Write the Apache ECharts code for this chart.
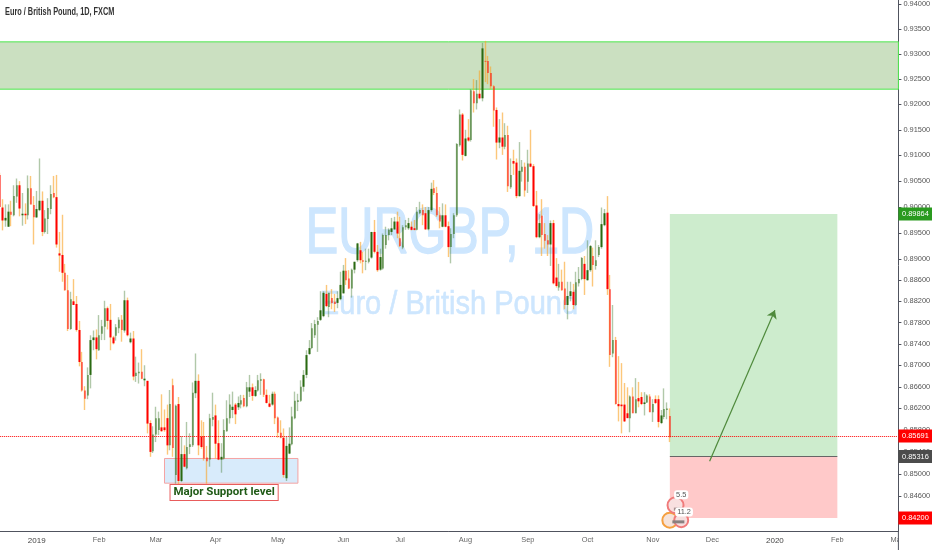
<!DOCTYPE html>
<html><head><meta charset="utf-8">
<style>html,body{margin:0;padding:0;background:#fff}#c{width:932px;height:550px}</style>
<script src="https://cdn.jsdelivr.net/npm/echarts@6/dist/echarts.min.js"></script>
</head><body><div id="c"></div>
<script>
const opens=[.9062,.8999,.8974,.8962,.8991,.8984,.9020,.9042,.8984,.8987,
.8984,.9036,.9004,.8980,.8994,.9012,.8952,.8977,.8996,.9027,
.9019,.8911,.8908,.8874,.8841,.8768,.8820,.8815,.8766,.8706,
.8653,.8644,.8682,.8747,.8752,.8728,.8759,.8772,.8807,.8785,
.8752,.8755,.8769,.8785,.8765,.8822,.8743,.8750,.8680,.8685,
.8688,.8672,.8671,.8593,.8541,.8572,.8580,.8585,.8585,.8602,
.8552,.8663,.8498,.8628,.8487,.8536,.8510,.8549,.8552,.8648,
.8671,.8568,.8569,.8530,.8526,.8599,.8607,.8556,.8526,.8528,
.8578,.8602,.8617,.8627,.8622,.8627,.8639,.8624,.8651,.8659,
.8643,.8653,.8671,.8674,.8645,.8629,.8627,.8647,.8603,.8575,
.8566,.8492,.8537,.8554,.8602,.8632,.8634,.8660,.8682,.8721,
.8732,.8756,.8776,.8785,.8792,.8834,.8809,.8826,.8819,.8817,
.8824,.8835,.8878,.8863,.8844,.8880,.8898,.8917,.8898,.8895,
.8895,.8903,.8952,.8914,.8880,.8882,.8927,.8946,.8952,.8957,
.8972,.8940,.8922,.8961,.8959,.8962,.8959,.8956,.8988,.8994,
.8988,.8957,.8994,.9036,.9027,.8984,.8962,.8984,.8963,.8923,
.8948,.8984,.9120,.9180,.9099,.9135,.9130,.9226,.9202,.9221,
.9212,.9286,.9286,.9262,.9236,.9189,.9125,.9135,.9117,.9140,
.9038,.9089,.9086,.9021,.9068,.9078,.9049,.9084,.9079,.9003,
.8942,.8983,.8948,.8936,.8928,.8969,.8865,.8846,.8857,.8844,
.8813,.8830,.8838,.8813,.8854,.8862,.8891,.8860,.8879,.8906,
.8887,.8908,.8923,.8965,.8989,.8843,.8722,.8747,.8628,.8627,
.8627,.8611,.8602,.8642,.8611,.8639,.8641,.8628,.8631,.8642,
.8613,.8637,.8637,.8593,.8604,.8617,.8606];
const highs=[.9066,.9015,.9005,.9005,.9012,.9042,.9055,.9050,.9027,.9007,
.9061,.9060,.9021,.9031,.9094,.9030,.8994,.9017,.9042,.9060,
.9062,.8952,.8985,.8891,.8870,.8838,.8862,.8830,.8783,.8725,
.8661,.8696,.8756,.8765,.8767,.8794,.8785,.8821,.8810,.8815,
.8755,.8777,.8790,.8794,.8840,.8827,.8761,.8764,.8716,.8705,
.8730,.8700,.8671,.8598,.8587,.8623,.8614,.8646,.8618,.8627,
.8654,.8675,.8627,.8641,.8569,.8552,.8595,.8574,.8668,.8722,
.8683,.8598,.8595,.8551,.8610,.8649,.8627,.8598,.8556,.8600,
.8635,.8646,.8651,.8630,.8642,.8645,.8645,.8669,.8682,.8666,
.8661,.8682,.8685,.8675,.8655,.8645,.8651,.8651,.8605,.8598,
.8583,.8569,.8585,.8623,.8651,.8647,.8672,.8691,.8728,.8747,
.8779,.8785,.8790,.8839,.8839,.8851,.8836,.8843,.8834,.8839,
.8876,.8889,.8902,.8879,.8882,.8895,.8931,.8933,.8914,.8920,
.8920,.8952,.8975,.8927,.8920,.8949,.8962,.8959,.8979,.8981,
.8991,.8981,.8965,.8975,.8979,.8972,.8975,.9000,.9010,.9005,
.9000,.9000,.9047,.9052,.9039,.9000,.9007,.9005,.8972,.8959,
.8988,.9124,.9190,.9183,.9150,.9171,.9230,.9250,.9248,.9267,
.9322,.9326,.9296,.9275,.9238,.9194,.9171,.9184,.9163,.9158,
.9094,.9111,.9094,.9126,.9091,.9086,.9111,.9150,.9083,.9031,
.8986,.9015,.8969,.8946,.8974,.8975,.8902,.8891,.8880,.8895,
.8857,.8857,.8853,.8876,.8885,.8904,.8906,.8936,.8927,.8922,
.8936,.8927,.8999,.8996,.9021,.8870,.8813,.8753,.8717,.8704,
.8667,.8659,.8644,.8659,.8676,.8669,.8650,.8650,.8646,.8646,
.8637,.8644,.8644,.8617,.8657,.8631,.8620];
const lows=[.9000,.8955,.8962,.8962,.8963,.8982,.9008,.8982,.8964,.8967,
.8976,.9005,.8928,.8979,.8992,.8944,.8949,.8948,.8986,.9017,
.8922,.8876,.8857,.8840,.8764,.8766,.8813,.8763,.8698,.8651,
.8617,.8637,.8657,.8728,.8711,.8727,.8747,.8747,.8767,.8728,
.8739,.8746,.8760,.8744,.8761,.8754,.8741,.8672,.8669,.8666,
.8674,.8661,.8574,.8531,.8538,.8558,.8571,.8577,.8577,.8535,
.8543,.8531,.8482,.8473,.8485,.8512,.8508,.8536,.8549,.8639,
.8534,.8546,.8524,.8482,.8513,.8587,.8528,.8525,.8502,.8526,
.8577,.8592,.8602,.8591,.8617,.8620,.8622,.8622,.8641,.8634,
.8641,.8651,.8645,.8641,.8629,.8622,.8625,.8591,.8566,.8565,
.8493,.8487,.8536,.8552,.8600,.8615,.8632,.8651,.8676,.8719,
.8730,.8751,.8725,.8783,.8790,.8809,.8790,.8805,.8800,.8807,
.8822,.8835,.8851,.8843,.8827,.8873,.8895,.8892,.8873,.8879,
.8892,.8901,.8911,.8876,.8878,.8880,.8920,.8936,.8946,.8956,
.8940,.8923,.8919,.8956,.8956,.8955,.8955,.8955,.8986,.8965,
.8956,.8955,.8991,.9023,.8981,.8959,.8961,.8961,.8904,.8892,
.8940,.8981,.9117,.9090,.9098,.9127,.9127,.9184,.9190,.9210,
.9206,.9244,.9240,.9230,.9156,.9092,.9114,.9101,.9112,.9029,
.9035,.9062,.9017,.9020,.9049,.9020,.9027,.9077,.9000,.8940,
.8940,.8906,.8920,.8906,.8887,.8852,.8846,.8840,.8840,.8805,
.8786,.8820,.8805,.8811,.8848,.8860,.8832,.8859,.8876,.8848,
.8880,.8904,.8920,.8963,.8832,.8697,.8715,.8627,.8596,.8574,
.8595,.8602,.8576,.8611,.8611,.8622,.8626,.8607,.8630,.8613,
.8595,.8628,.8585,.8591,.8600,.8600,.8558];
const closes=[.9000,.8974,.8979,.8991,.8985,.9021,.9042,.8997,.8987,.8984,
.9036,.9005,.8980,.8996,.9012,.8952,.8978,.8998,.9025,.9019,
.8928,.8907,.8874,.8841,.8768,.8824,.8813,.8766,.8706,.8653,
.8638,.8682,.8747,.8752,.8730,.8756,.8773,.8807,.8783,.8752,
.8741,.8771,.8785,.8766,.8822,.8756,.8750,.8679,.8686,.8688,
.8675,.8675,.8592,.8540,.8572,.8602,.8602,.8578,.8580,.8552,
.8628,.8547,.8625,.8487,.8536,.8513,.8549,.8554,.8649,.8671,
.8552,.8549,.8528,.8523,.8602,.8604,.8555,.8526,.8531,.8580,
.8602,.8627,.8623,.8609,.8630,.8635,.8624,.8659,.8659,.8643,
.8654,.8672,.8674,.8645,.8630,.8623,.8647,.8602,.8575,.8566,
.8498,.8551,.8555,.8605,.8634,.8635,.8660,.8682,.8719,.8732,
.8769,.8777,.8783,.8803,.8836,.8811,.8836,.8817,.8815,.8826,
.8851,.8878,.8860,.8844,.8880,.8895,.8930,.8898,.8895,.8897,
.8901,.8952,.8914,.8879,.8904,.8946,.8946,.8956,.8959,.8972,
.8949,.8925,.8961,.8965,.8969,.8956,.8956,.8991,.8994,.8984,
.8957,.8994,.9035,.9027,.8984,.8972,.8984,.8962,.8923,.8948,
.8984,.9122,.9180,.9101,.9133,.9129,.9228,.9202,.9221,.9212,
.9311,.9285,.9262,.9236,.9188,.9125,.9135,.9117,.9140,.9040,
.9062,.9084,.9021,.9070,.9078,.9032,.9084,.9078,.9002,.8942,
.8969,.8946,.8935,.8928,.8969,.8854,.8849,.8857,.8841,.8813,
.8830,.8839,.8813,.8856,.8862,.8902,.8862,.8879,.8925,.8889,
.8898,.8923,.8967,.8988,.8843,.8719,.8747,.8628,.8624,.8624,
.8596,.8602,.8642,.8611,.8637,.8633,.8628,.8631,.8644,.8613,
.8628,.8630,.8595,.8607,.8619,.8620,.8567];

const monthLabels=['2019','Feb','Mar','Apr','May','Jun','Jul','Aug','Sep','Oct','Nov','Dec','2020','Feb','Mar'];
const monthBars=[13,35,55,76,98,121,141,164,186,207,230,251,273,295,316];
const slotCount=317;
const priceTicks=[.94,.935,.93,.925,.92,.915,.91,.905,.9,.895,.89,.886,.882,.878,.874,.87,.866,.862,.858,.854,.85,.846,.842];
const tagPrices=[.89864,.85691,.85316,.842];
const tagKinds=['g','r','d','r'];
const axisMaxPrice=.9408, axisMinPrice=.8396;
const resistanceZone=[.9324,.9230];
const supportZone=[.8528,.8483];
const supportBars=[58,105];
const longStartBar=236, longEndBar=295, longTarget=.89864, longEntry=.85316, longStop=.842;
const currentPrice=.85691;
const arrowFrom=[250,.8523], arrowTo=[273,.8803];
const noteBar=79, notePrice=.8466, noteText='Major Support level';

const L=Math.log;
const sans='"Liberation Sans",Arial,sans-serif';
const cats=Array.from({length:slotCount},(_,i)=>{const k=monthBars.indexOf(i);return k<0?'':monthLabels[k];});
const isMonth=i=>monthBars.includes(i);
const wicks=opens.map((o,i)=>[L(o),L(closes[i]),L(lows[i]),L(highs[i])]);
const bodies=opens.map((o,i)=>{const a=L(o),b=L(closes[i]);return [a,b,Math.min(a,b),Math.max(a,b)];});
const yBase={type:'value',position:'right',min:L(axisMinPrice),max:L(axisMaxPrice),scale:true,splitLine:{show:false}};
const tag=(bg)=>({backgroundColor:bg,color:'#fff',width:34,height:13,lineHeight:13,align:'center',fontFamily:sans,fontSize:7.4});
const up='rgba(70,125,50,.42)', down='rgba(250,165,40,.62)';

const chart=echarts.init(document.getElementById('c'),null,{renderer:'canvas'});
chart.setOption({
 animation:false,backgroundColor:'#fff',
 grid:{left:-1.6,top:0,width:900,height:531.3,containLabel:false,outerBoundsMode:'none'},
 xAxis:{type:'category',data:cats,boundaryGap:true,
  axisLine:{lineStyle:{color:'#50535e',width:1}},
  axisTick:{alignWithLabel:true,length:3,interval:i=>isMonth(i),lineStyle:{color:'#50535e'}},
  axisLabel:{interval:i=>isMonth(i),margin:5,fontFamily:sans,fontSize:7.4,color:'#666',
   formatter:v=>/^20/.test(v)?'{y|'+v+'}':v,rich:{y:{fontFamily:sans,fontSize:8,color:'#444'}}},
  splitLine:{show:false}},
 yAxis:[
  Object.assign({},yBase,{
   axisLine:{show:true,onZero:false,lineStyle:{color:'#50535e',width:1}},
   axisTick:{show:true,length:3,customValues:priceTicks.map(L),lineStyle:{color:'#50535e'}},
   axisLabel:{customValues:priceTicks.map(L),margin:5,fontFamily:sans,fontSize:7.4,color:'#555',formatter:v=>Math.exp(v).toFixed(5)}}),
  Object.assign({},yBase,{
   axisLine:{show:false},axisTick:{show:false},
   axisLabel:{customValues:tagPrices.map(L),margin:0,
    formatter:v=>{let k=0,b=9;tagPrices.forEach((p,i)=>{const d=Math.abs(L(p)-v);if(d<b){b=d;k=i;}});return '{'+tagKinds[k]+'|'+tagPrices[k].toFixed(5)+'}';},
    rich:{g:tag('#2a9a1f'),r:tag('#f00'),d:tag('#4c4c4c')}}})
 ],
 series:[
  {type:'line',z:1,data:closes.map(L),showSymbol:false,lineStyle:{opacity:0},silent:true,
   markArea:{silent:true,data:[
    [{yAxis:L(resistanceZone[0]),itemStyle:{color:'#cbe0c1',borderColor:'#4ee84e',borderWidth:1}},{yAxis:L(resistanceZone[1])}],
    [{coord:[longStartBar,L(longTarget)],itemStyle:{color:'#cdeccd'}},{coord:[longEndBar,L(longEntry)]}],
    [{coord:[longStartBar,L(longEntry)],itemStyle:{color:'#ffc9c9'}},{coord:[longEndBar,L(longStop)]}],
    [{coord:[supportBars[0],L(supportZone[0])],itemStyle:{color:'#d8ebfb',borderColor:'#f5a3a3',borderWidth:1}},{coord:[supportBars[1],L(supportZone[1])]}]
   ]}},
  {type:'candlestick',name:'wick',z:2,barWidth:1,data:wicks,silent:true,clip:false,
   itemStyle:{color:up,color0:down,borderColor:up,borderColor0:down,borderWidth:1.4}},
  {type:'candlestick',name:'body',z:3,barWidth:2,data:bodies,silent:true,clip:false,
   itemStyle:{color:'#2a6a12',color0:'#f00',borderColor:'#2a6a12',borderColor0:'#f00',borderWidth:0}},
  {type:'line',z:5,data:closes.map(L),showSymbol:false,lineStyle:{opacity:0},silent:true,
   markLine:{silent:true,symbol:'none',label:{show:false},animation:false,data:[
    [{coord:[0,L(currentPrice)],lineStyle:{color:'#f00',type:'dotted',width:1}},{coord:[316,L(currentPrice)]}],
    [{coord:[longStartBar,L(longEntry)],lineStyle:{color:'#666',type:'solid',width:1}},{coord:[longEndBar,L(longEntry)]}],
    [{coord:[arrowFrom[0],L(arrowFrom[1])],symbol:'none',lineStyle:{color:'#4f8a3c',type:'solid',width:1.2}},{coord:[arrowTo[0],L(arrowTo[1])],symbol:'arrow',symbolSize:8}]
   ]},
   markPoint:{silent:true,data:[
    {coord:[noteBar,L(notePrice)],symbol:'rect',symbolSize:1,itemStyle:{color:'transparent'},
     label:{show:true,position:'inside',formatter:noteText,fontFamily:'Roboto,sans-serif',fontWeight:'bold',fontSize:11.5,color:'#1f5a16',
      backgroundColor:'#fff',borderColor:'#e85c5c',borderWidth:1,padding:[2,3,1,3]}},
    {coord:[236,L(.8416)],symbol:'circle',symbolSize:15,itemStyle:{color:'#f6e3da',borderColor:'#f5a040',borderWidth:2},label:{show:false}},
    {coord:[240,L(.8416)],symbol:'circle',symbolSize:14,itemStyle:{color:'#f6dede',borderColor:'#f07a7a',borderWidth:2},label:{show:false}},
    {coord:[238,L(.8443)],symbol:'circle',symbolSize:16,itemStyle:{color:'#f8e0e0',borderColor:'#f07a7a',borderWidth:2},label:{show:false}},
    {coord:[239,L(.8413)],symbol:'rect',symbolSize:[12,3],itemStyle:{color:'#8a8080'},label:{show:false}},
    {coord:[239,L(.8436)],symbol:'rect',symbolSize:[9,3],itemStyle:{color:'#a89090'},label:{show:false}},
    {coord:[240,L(.8462)],symbol:'rect',symbolSize:1,itemStyle:{color:'transparent'},label:{show:true,position:'inside',formatter:'5.5',fontFamily:sans,fontSize:7.4,color:'#555',backgroundColor:'#fff',padding:[1,2],borderRadius:3}},
    {coord:[241,L(.8431)],symbol:'rect',symbolSize:1,itemStyle:{color:'transparent'},label:{show:true,position:'inside',formatter:'11.2',fontFamily:sans,fontSize:7.4,color:'#555',backgroundColor:'#fff',padding:[1,2],borderRadius:3}}
   ]}}
 ],
 graphic:[
  {type:'text',z:-1,silent:true,x:450,y:235,scaleX:.76,style:{text:'EURGBP, 1D',fill:'#cde6fe',stroke:'#cde6fe',lineWidth:1.4,font:'64px "Liberation Sans",sans-serif',textAlign:'center',textVerticalAlign:'middle'}},
  {type:'text',z:-1,silent:true,x:449,y:305,scaleX:.88,style:{text:'Euro / British Pound',fill:'#cde6fe',stroke:'#cde6fe',lineWidth:.6,font:'33px "Liberation Sans",sans-serif',textAlign:'center',textVerticalAlign:'middle'}},
  {type:'text',z:10,silent:true,x:5,y:12,scaleX:.7,style:{text:'Euro / British Pound, 1D, FXCM',fill:'#333',font:'bold 10.5px "Liberation Sans",sans-serif',textAlign:'left',textVerticalAlign:'middle'}},
  {type:'rect',z:100,silent:true,shape:{x:898.5,y:532,width:34,height:18},style:{fill:'#fff'}},
  {type:'line',z:101,silent:true,shape:{x1:898.4,y1:531,x2:898.4,y2:550},style:{stroke:'#50535e',lineWidth:1}}
 ]
});
</script></body></html>
